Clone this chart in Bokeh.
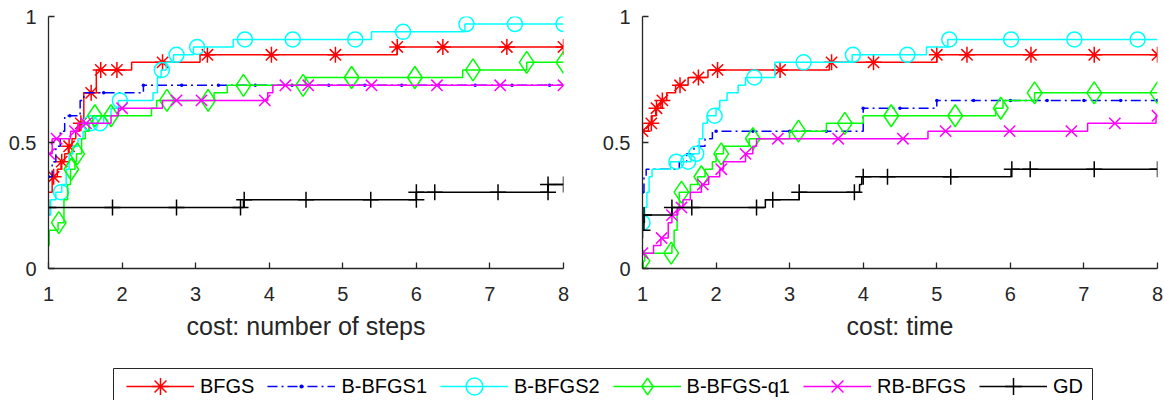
from bokeh.plotting import figure
from bokeh.layouts import row, column
from bokeh.models import Range1d, FixedTicker, Legend, LegendItem
from bokeh.embed import file_html
from bokeh.resources import INLINE

FONT = "Liberation Sans"
AXC = "#262626"

# ---------------- data ----------------
names = ["BFGS", "B-BFGS1", "B-BFGS2", "B-BFGS-q1", "RB-BFGS", "GD"]
x_ticks = [1, 2, 3, 4, 5, 6, 7, 8]
y_ticks = [0, 0.5, 1]
y_tick_labels = ["0", "0.5", "1"]
x_labels = ["cost: number of steps", "cost: time"]

# ---- left panel: cost = number of steps ----
bfgs_l_x = [1.0, 1.05, 1.12, 1.17, 1.22, 1.27, 1.32, 1.37, 1.42, 1.48, 1.65, 2.13, 3.06, 5.74, 8.0]
bfgs_l_y = [0.303, 0.364, 0.394, 0.424, 0.455, 0.485, 0.515, 0.545, 0.576, 0.697, 0.788, 0.818, 0.848, 0.879, 0.879]
bfgs_l_mx = [1.07, 1.18, 1.28, 1.44, 1.58, 1.71, 1.93, 2.55, 3.16, 4.03, 4.9, 5.74, 6.36, 7.23, 8.0]
bfgs_l_my = [0.364, 0.424, 0.485, 0.576, 0.697, 0.788, 0.788, 0.818, 0.848, 0.848, 0.848, 0.879, 0.879, 0.879, 0.879]

bb1_l_x = [1.0, 1.05, 1.1, 1.16, 1.22, 1.43, 1.48, 2.29, 8.0]
bb1_l_y = [0.364, 0.424, 0.485, 0.545, 0.606, 0.667, 0.697, 0.727, 0.727]
bb1_l_mx = [1.0, 1.29, 1.75, 2.29, 2.81, 3.31, 3.81, 4.31, 4.81, 5.3, 5.8, 6.3, 6.8, 7.3, 7.81]
bb1_l_my = [0.364, 0.606, 0.697, 0.727, 0.727, 0.727, 0.727, 0.727, 0.727, 0.727, 0.727, 0.727, 0.727, 0.727, 0.727]

bb2_l_x = [1.0, 1.03, 1.1, 1.18, 1.24, 1.28, 1.33, 1.4, 1.47, 1.55, 1.75, 1.85, 1.95, 2.42, 2.48, 2.53, 2.6, 2.7, 2.97, 3.51, 5.39, 6.66, 8.0]
bb2_l_y = [0.212, 0.273, 0.303, 0.333, 0.394, 0.455, 0.485, 0.515, 0.545, 0.576, 0.606, 0.636, 0.667, 0.697, 0.758, 0.788, 0.818, 0.848, 0.879, 0.909, 0.939, 0.970, 0.970]
bb2_l_mx = [1.17, 1.57, 1.7, 1.97, 2.54, 2.74, 3.02, 3.67, 4.32, 5.17, 5.82, 6.68, 7.34, 8.0]
bb2_l_my = [0.303, 0.576, 0.576, 0.667, 0.788, 0.848, 0.879, 0.909, 0.909, 0.909, 0.939, 0.970, 0.970, 0.970]

bq1_l_x = [1.0, 1.01, 1.13, 1.21, 1.26, 1.3, 1.36, 1.38, 1.45, 1.5, 1.55, 1.6, 2.4, 2.47, 3.25, 3.43, 4.49, 6.63, 7.5, 8.0]
bq1_l_y = [0.091, 0.152, 0.182, 0.273, 0.333, 0.394, 0.424, 0.455, 0.515, 0.545, 0.576, 0.606, 0.636, 0.667, 0.697, 0.727, 0.758, 0.788, 0.818, 0.818]
bq1_l_mx = [1.14, 1.31, 1.39, 1.63, 1.85, 2.61, 3.17, 3.65, 4.46, 5.12, 5.98, 6.77, 7.5, 8.0]
bq1_l_my = [0.182, 0.394, 0.455, 0.606, 0.606, 0.667, 0.667, 0.727, 0.727, 0.758, 0.758, 0.788, 0.818, 0.818]

rb_l_x = [1.0, 1.05, 1.3, 1.4, 1.85, 1.95, 2.55, 3.98, 4.05, 8.0]
rb_l_y = [0.455, 0.515, 0.545, 0.576, 0.606, 0.636, 0.667, 0.697, 0.727, 0.727]
rb_l_mx = [1.01, 1.11, 1.36, 1.51, 2.0, 2.74, 3.08, 3.94, 4.22, 4.53, 5.39, 6.28, 7.14, 8.0]
rb_l_my = [0.455, 0.515, 0.545, 0.576, 0.636, 0.667, 0.667, 0.667, 0.727, 0.727, 0.727, 0.727, 0.727, 0.727]

gd_l_x = [1.0, 3.65, 6.0, 7.79, 8.0]
gd_l_y = [0.242, 0.273, 0.303, 0.333, 0.333]
gd_l_mx = [1.0, 1.87, 2.74, 3.61, 3.66, 4.5, 5.38, 6.0, 6.0, 6.25, 7.11, 7.79, 7.79, 8.0]
gd_l_my = [0.242, 0.242, 0.242, 0.242, 0.273, 0.273, 0.273, 0.273, 0.303, 0.303, 0.303, 0.303, 0.333, 0.333]

# ---- right panel: cost = time ----
bfgs_r_x = [1.0, 1.08, 1.13, 1.18, 1.25, 1.33, 1.45, 1.62, 1.89, 3.54, 5.0, 8.0]
bfgs_r_y = [0.545, 0.576, 0.606, 0.636, 0.667, 0.697, 0.727, 0.758, 0.788, 0.818, 0.848, 0.848]
bfgs_r_mx = [1.0, 1.12, 1.19, 1.27, 1.51, 1.76, 2.02, 2.87, 3.57, 4.14, 5.0, 5.41, 6.28, 7.14, 8.0]
bfgs_r_my = [0.545, 0.576, 0.636, 0.667, 0.727, 0.758, 0.788, 0.788, 0.818, 0.818, 0.848, 0.848, 0.848, 0.848, 0.848]

bb1_r_x = [1.0, 1.02, 1.05, 1.5, 1.6, 1.7, 1.85, 1.95, 4.0, 5.0, 8.0]
bb1_r_y = [0.303, 0.364, 0.394, 0.424, 0.455, 0.485, 0.515, 0.545, 0.636, 0.667, 0.667]
bb1_r_mx = [1.0, 2.0, 2.5, 3.0, 3.5, 4.0, 4.5, 5.0, 5.5, 6.0, 6.5, 7.0, 7.5, 8.0]
bb1_r_my = [0.303, 0.545, 0.545, 0.545, 0.545, 0.636, 0.636, 0.667, 0.667, 0.667, 0.667, 0.667, 0.667, 0.667]

bb2_r_x = [1.0, 1.01, 1.03, 1.06, 1.09, 1.13, 1.38, 1.66, 1.77, 1.82, 1.88, 2.0, 2.05, 2.15, 2.3, 2.4, 2.8, 3.85, 4.86, 5.15, 8.0]
bb2_r_y = [0.152, 0.182, 0.242, 0.303, 0.364, 0.394, 0.424, 0.455, 0.515, 0.576, 0.606, 0.636, 0.667, 0.697, 0.727, 0.758, 0.818, 0.848, 0.879, 0.909, 0.909]
bb2_r_mx = [1.0, 1.46, 1.62, 1.73, 1.98, 2.52, 3.19, 3.86, 4.6, 5.17, 6.01, 6.87, 7.73]
bb2_r_my = [0.182, 0.424, 0.424, 0.455, 0.606, 0.758, 0.818, 0.848, 0.848, 0.909, 0.909, 0.909, 0.909]

bq1_r_x = [1.0, 1.01, 1.03, 1.4, 1.43, 1.47, 1.5, 1.65, 1.75, 1.85, 1.95, 2.0, 2.1, 2.45, 3.0, 3.5, 4.0, 5.8, 5.9, 6.33, 8.0]
bq1_r_y = [0.0, 0.030, 0.061, 0.091, 0.152, 0.242, 0.303, 0.333, 0.364, 0.394, 0.424, 0.455, 0.485, 0.515, 0.545, 0.576, 0.606, 0.636, 0.667, 0.697, 0.697]
bq1_r_mx = [1.0, 1.39, 1.53, 1.8, 2.07, 2.5, 3.12, 3.75, 4.38, 5.25, 5.87, 6.33, 7.14, 8.0]
bq1_r_my = [0.030, 0.061, 0.303, 0.364, 0.455, 0.515, 0.545, 0.576, 0.606, 0.606, 0.636, 0.697, 0.697, 0.697]

rb_r_x = [1.0, 1.15, 1.25, 1.35, 1.4, 1.48, 1.55, 1.65, 1.8, 1.9, 2.05, 2.1, 2.4, 2.5, 2.55, 4.88, 7.05, 7.98, 8.0]
rb_r_y = [0.061, 0.091, 0.121, 0.182, 0.212, 0.242, 0.273, 0.303, 0.333, 0.364, 0.394, 0.424, 0.455, 0.485, 0.515, 0.545, 0.576, 0.606, 0.606]
rb_r_mx = [1.0, 1.26, 1.4, 1.53, 1.82, 2.07, 2.4, 2.84, 3.66, 4.54, 5.12, 5.99, 6.83, 7.42, 8.0]
rb_r_my = [0.061, 0.121, 0.212, 0.242, 0.333, 0.394, 0.455, 0.515, 0.515, 0.515, 0.545, 0.545, 0.545, 0.576, 0.606]

gd_r_x = [1.0, 1.02, 1.4, 2.67, 3.13, 3.95, 3.98, 6.01, 8.0]
gd_r_y = [0.152, 0.212, 0.242, 0.273, 0.303, 0.333, 0.364, 0.394, 0.394]
gd_r_mx = [1.0, 1.02, 1.4, 1.67, 2.55, 2.77, 3.13, 3.88, 4.0, 4.33, 5.19, 6.02, 6.27, 7.14, 8.0]
gd_r_my = [0.152, 0.212, 0.242, 0.242, 0.242, 0.273, 0.303, 0.303, 0.364, 0.364, 0.364, 0.394, 0.394, 0.394, 0.394]

# ---------------- styles ----------------
colors = ["#ff0000", "#0000ff", "#00ffff", "#00ff00", "#ff00ff", "#000000"]
marker_types = ["asterisk", "dot", "circle", "diamond", "x", "cross"]
marker_sizes = [16, 14, 15, 22, 16, 16]
dashes = ["solid", "10 4 2 4", "solid", "solid", "solid", "solid"]

left_series = [
    (bfgs_l_x, bfgs_l_y, bfgs_l_mx, bfgs_l_my),
    (bb1_l_x, bb1_l_y, bb1_l_mx, bb1_l_my),
    (bb2_l_x, bb2_l_y, bb2_l_mx, bb2_l_my),
    (bq1_l_x, bq1_l_y, bq1_l_mx, bq1_l_my),
    (rb_l_x, rb_l_y, rb_l_mx, rb_l_my),
    (gd_l_x, gd_l_y, gd_l_mx, gd_l_my),
]
right_series = [
    (bfgs_r_x, bfgs_r_y, bfgs_r_mx, bfgs_r_my),
    (bb1_r_x, bb1_r_y, bb1_r_mx, bb1_r_my),
    (bb2_r_x, bb2_r_y, bb2_r_mx, bb2_r_my),
    (bq1_r_x, bq1_r_y, bq1_r_mx, bq1_r_my),
    (rb_r_x, rb_r_y, rb_r_mx, rb_r_my),
    (gd_r_x, gd_r_y, gd_r_mx, gd_r_my),
]


def marker_fill(i):
    return colors[i] if marker_types[i] == "dot" else None


def add_series(p, i, sx, sy, mx, my):
    p.step(sx, sy, mode="after", line_color=colors[i], line_width=1.5,
           line_dash=dashes[i])
    p.scatter(mx, my, marker=marker_types[i], size=marker_sizes[i],
              line_color=colors[i], line_width=1.5, fill_color=marker_fill(i))


def make_panel(series, xlabel, bl, br):
    p = figure(frame_width=515, frame_height=252,
               x_range=Range1d(1, 8), y_range=Range1d(0, 1),
               min_border_left=bl, min_border_right=br,
               min_border_top=16, min_border_bottom=72,
               output_backend="svg", toolbar_location=None)
    p.outline_line_color = None
    p.grid.visible = False
    p.background_fill_color = "white"
    p.border_fill_color = "white"
    p.xaxis.ticker = FixedTicker(ticks=x_ticks)
    p.yaxis.ticker = FixedTicker(ticks=y_ticks)
    p.yaxis.major_label_overrides = dict(zip(y_ticks, y_tick_labels))
    for ax in (p.xaxis[0], p.yaxis[0]):
        ax.axis_line_color = AXC
        ax.axis_line_width = 1.3
        ax.major_tick_line_color = AXC
        ax.major_tick_line_width = 1.3
        ax.major_tick_in = 6
        ax.major_tick_out = 0
        ax.minor_tick_line_color = None
        ax.major_label_text_font = FONT
        ax.major_label_text_font_size = "20px"
        ax.major_label_text_color = AXC
        ax.axis_label_text_font = FONT
        ax.axis_label_text_font_style = "normal"
        ax.axis_label_text_font_size = "25px"
        ax.axis_label_text_color = AXC
    p.xaxis.major_label_standoff = 18
    p.yaxis.major_label_standoff = 12
    p.xaxis.axis_label = xlabel
    p.xaxis.axis_label_standoff = 8
    for i, (sx, sy, mx, my) in enumerate(series):
        add_series(p, i, sx, sy, mx, my)
    return p


p1 = make_panel(left_series, x_labels[0], 48, 36)
p2 = make_panel(right_series, x_labels[1], 42, 8)

# ---------------- legend strip ----------------
leg = figure(frame_width=1164, frame_height=60, x_range=Range1d(0, 1164),
             y_range=Range1d(0, 60), min_border=0,
             x_axis_location=None, y_axis_location=None,
             output_backend="svg", toolbar_location=None)
leg.outline_line_color = None
leg.grid.visible = False
leg.quad(left=[113], right=[1092], top=[34], bottom=[-10],
         fill_color=None, line_color=AXC, line_width=1)
items = []
for i, nm in enumerate(names):
    sx, sy, mx, my = left_series[i]
    a = leg.line(sx, sy, line_color=colors[i], line_width=1.5,
                 line_dash=dashes[i], visible=False)
    b = leg.scatter(mx, my, marker=marker_types[i], size=marker_sizes[i],
                    line_color=colors[i], line_width=1.5,
                    fill_color=marker_fill(i), visible=False)
    items.append(LegendItem(label=nm, renderers=[a, b]))
legend = Legend(items=items, orientation="horizontal", location=(126, -5),
                glyph_width=68, glyph_height=42, label_standoff=6, spacing=13,
                padding=0, margin=0, border_line_color=None,
                background_fill_alpha=0, inactive_fill_alpha=0,
                label_text_font=FONT, label_text_font_size="20px",
                label_text_color="black")
leg.add_layout(legend)

layout = column(row(p1, p2), leg)
open("out.html", "w").write(file_html(layout, INLINE))
